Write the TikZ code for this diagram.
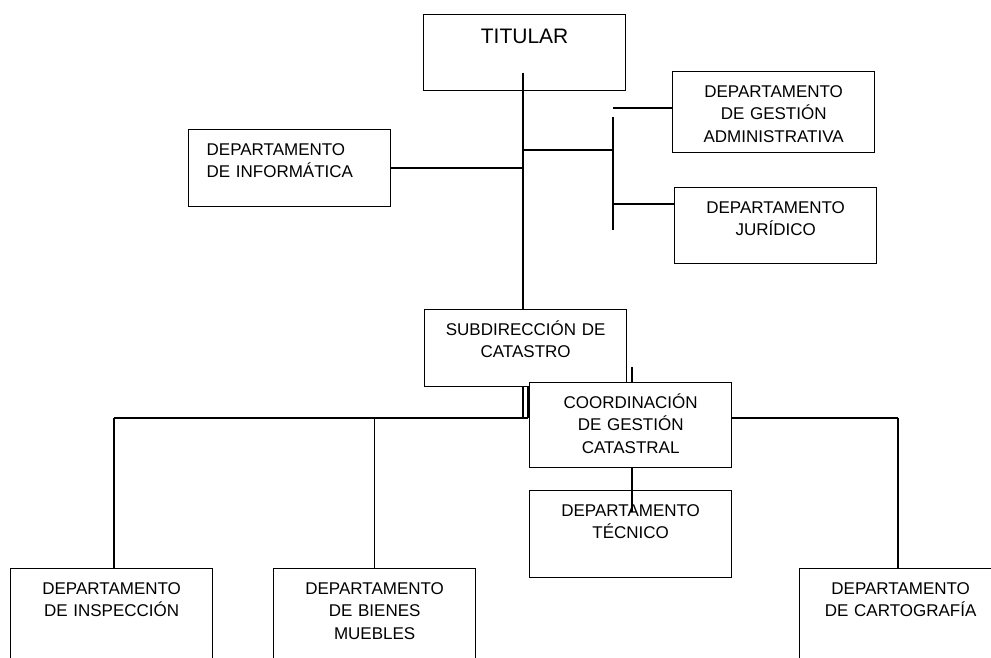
\documentclass[tikz,border=0pt]{standalone}
\usepackage{fontspec}
\setmainfont{Liberation Sans}

\begin{document}
\begin{tikzpicture}[x=1pt,y=-1pt,line width=1.3pt,
  caja/.style={draw, fill=white, anchor=north west, inner sep=0pt, text width=202pt,
    align=center, text height=25.5pt, font=\fontsize{17}{22.5}\selectfont}]
\clip (0,0) rectangle (991,658);
\fill[white] (0,0) rectangle (991,658);

% arriba
\node[caja, text height=29pt, text depth=47pt, font=\fontsize{21}{25}\selectfont] (titular) at (423,14) {TITULAR};
\node[caja, text depth=51.5pt, align=left, inner xsep=18pt, text width=166pt] (informatica) at (188,129) {DEPARTAMENTO\\DE INFORMÁTICA};
\node[caja, text depth=55.5pt] (gestion) at (672,71) {DEPARTAMENTO\\DE GESTIÓN\\ADMINISTRATIVA};
\node[caja, text depth=50.5pt] (juridico) at (674,187) {DEPARTAMENTO\\JURÍDICO};
\node[caja, text depth=51.5pt] (subdir) at (424,309) {SUBDIRECCIÓN DE\\CATASTRO};

\coordinate (arranque) at (523,73);
\draw (arranque) -- (arranque |- subdir.north);
\draw (informatica.east) -- (informatica.east -| arranque);
\coordinate (bifurca) at (613,150);
\draw (arranque |- bifurca) -- (bifurca);
\coordinate (ejeSup) at (613,117);
\coordinate (ejeInf) at (613,230);
\draw (ejeSup) -- (ejeInf);
\coordinate (ramaA) at (613,108);
\coordinate (ramaB) at (613,204);
\draw (ramaA) -- (ramaA -| gestion.west);
\draw (ramaB) -- (ramaB -| juridico.west);

% abajo
\node[caja, text depth=61.5pt] (tecnico) at (529,490) {DEPARTAMENTO\\TÉCNICO};
\coordinate (tecSup) at (632,367);
\coordinate (tecInf) at (632,512);
\draw (tecSup) -- (tecInf);
\node[caja, text depth=59.5pt] (coord) at (529,382) {COORDINACIÓN\\DE GESTIÓN\\CATASTRAL};

\node[caja, text depth=94.5pt] (inspeccion) at (10,568) {DEPARTAMENTO\\DE INSPECCIÓN};
\node[caja, text depth=94.5pt] (bienes) at (273,568) {DEPARTAMENTO\\DE BIENES\\MUEBLES};
\node[caja, text depth=94.5pt] (cartografia) at (799,568) {DEPARTAMENTO\\DE CARTOGRAFÍA};

\coordinate (busIzq) at (114,418);
\coordinate (busMed) at (528,418);
\coordinate (busDer) at (898,418);
\draw (arranque |- subdir.south) -- (arranque |- busIzq);
\draw (busMed |- subdir.south) -- (busMed);
\draw (busIzq) -- (busMed);
\draw (coord.east |- busDer) -- (busDer);
\draw (busIzq) -- (busIzq |- inspeccion.north);
\draw (bienes.north |- busIzq) -- (bienes.north);
\draw (busDer) -- (busDer |- cartografia.north);
\end{tikzpicture}
\end{document}
